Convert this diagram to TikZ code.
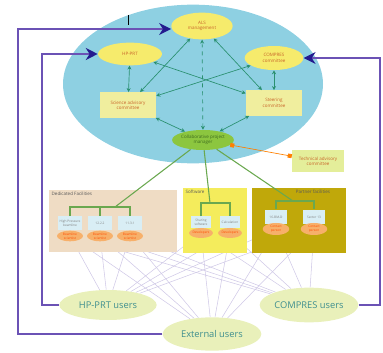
\documentclass[tikz,border=0pt]{standalone}
\usepackage{fontspec}
\setmainfont{Open Sans}
\usetikzlibrary{arrows.meta,positioning,shapes.geometric,backgrounds}
\definecolor{sky}{HTML}{8ED0E2}
\definecolor{yel}{HTML}{F6EB6C}
\definecolor{paleyel}{HTML}{F0EE9E}
\definecolor{rust}{HTML}{C8642A}
\definecolor{tealgr}{HTML}{2A9070}
\definecolor{mgrgr}{HTML}{8CC63F}
\definecolor{darkgr}{HTML}{3E6B1E}
\definecolor{tacgr}{HTML}{E4EE9A}
\definecolor{ded}{HTML}{EFDCC4}
\definecolor{soft}{HTML}{F4EC5C}
\definecolor{part}{HTML}{C0A80A}
\definecolor{iceblue}{HTML}{D9EEF5}
\definecolor{peach}{HTML}{F7B06A}
\definecolor{usergr}{HTML}{E9F0BA}
\definecolor{userteal}{HTML}{3F8F8F}
\definecolor{purp}{HTML}{6B52B5}
\definecolor{navy}{HTML}{241B8F}
\definecolor{leafgr}{HTML}{6AA84F}
\definecolor{lav}{HTML}{CFC8E6}

\begin{document}
\begin{tikzpicture}[x=0.75pt,y=-0.75pt,>=Stealth,font=\fontsize{3.4}{4}\selectfont]
\tikzstyle{yo}=[ellipse,fill=yel,inner sep=0pt,text=rust,align=center]
\tikzstyle{cb}=[fill=paleyel,inner sep=0pt,text=rust,align=center,minimum width=42pt,minimum height=19pt]
\tikzstyle{lk}=[draw=tealgr,line width=0.5pt,{Stealth[length=3pt,width=3pt]}-{Stealth[length=3pt,width=3pt]}]
\tikzstyle{fb}=[fill=iceblue,inner sep=0pt,align=center,text=gray,font=\fontsize{2.4}{3}\selectfont]
\tikzstyle{fo}=[ellipse,fill=peach,inner sep=0pt,align=center,text=orange!60!red,font=\fontsize{2.4}{3}\selectfont]
\tikzstyle{uo}=[ellipse,fill=usergr,inner sep=0pt,text=userteal,font=\fontsize{7}{8}\selectfont]
\tikzstyle{pl}=[draw=purp,line width=1.2pt,-{Stealth[length=9pt,width=9pt,color=navy]}]
\tikzstyle{gl}=[draw=leafgr,line width=0.8pt]
\tikzstyle{ul}=[draw=lav,line width=0.4pt]
\useasboundingbox (0,0) rectangle (383,353);

% governance
\node[ellipse,fill=sky,minimum width=195pt,minimum height=119pt] (sky) at (193,84) {};
\node[yo,minimum width=46pt,minimum height=20pt] (als) at (202,26) {ALS\\management};
\node[yo,minimum width=48pt,minimum height=17pt] (hp) at (130,54) {HP-PRT};
\node[yo,minimum width=44pt,minimum height=18pt] (cc) at (274,58) {COMPRES\\committee};
\node[cb] (sac) at (128,105) {Science advisory\\committee};
\node[cb] (stc) at (274,103) {Steering\\committee};
\node[ellipse,fill=mgrgr,minimum width=45pt,minimum height=15pt,inner sep=0pt,align=center,text=darkgr] (mgr) at (203,140) {Collaborative project\\manager};
\node[cb,fill=tacgr,minimum width=39pt,minimum height=17pt] (tac) at (318,161) {Technical advisory\\committee};
\draw[lk] (sac) -- (als); \draw[lk] (stc) -- (als);
\draw[lk] (hp) -- (sac); \draw[lk] (cc) -- (stc);
\draw[lk] (hp) -- (stc); \draw[lk] (cc) -- (sac);
\draw[lk,dashed] (mgr) -- (als);
\draw[lk] (sac) -- (mgr); \draw[lk] (stc) -- (mgr);
\draw[draw=orange,line width=0.5pt,{Square[length=3pt,width=3pt]}-{Square[length=3pt,width=3pt]}] (mgr) -- (tac);

% facilities
\node[fill=ded,minimum width=96pt,minimum height=47pt,inner sep=0pt] (ded) at (113,221) {};
\node[fill=soft,minimum width=48pt,minimum height=49pt,inner sep=0pt] (sw) at (215,220.5) {};
\node[fill=part,minimum width=70.5pt,minimum height=49pt,inner sep=0pt] (pf) at (299,220.5) {};
\node[anchor=north west,inner sep=2pt,text=black!65] (dedl) at (ded.north west) {Dedicated Facilities};
\node[anchor=north west,inner sep=2pt,text=black!65] (swl) at (sw.north west) {Software};
\node[anchor=north east,inner sep=2pt,xshift=-10pt,text=black!65] (pfl) at (pf.north east) {Partner facilities};
\foreach \n/\x/\t in {d1/70/{High Pressure\\beamline},d2/100/{12.2.2},d3/130/{11.3.1}} {
  \node[fb,minimum width=18pt,minimum height=10pt] (\n) at (\x,223) {\t};
  \node[fo,minimum width=19.5pt,minimum height=8pt] (\n e) at (\x,236) {Beamline\\scientist};
}
\foreach \n/\x/\t in {s1/201/{Sharing\\software},s2/230/{Calculation}} {
  \node[fb,minimum width=15pt,minimum height=8.5pt] (\n) at (\x,222) {\t};
  \node[fo,minimum width=17pt,minimum height=7.5pt] (\n e) at (\x,233) {Developers};
}
\foreach \n/\x/\t in {p1/276/{16-BM-D},p2/314/{Sector 13}} {
  \node[fb,minimum width=16.5pt,minimum height=11pt] (\n) at (\x,217) {\t};
  \node[fo,minimum width=20pt,minimum height=9pt] (\n e) at (\x,229) {Contact\\person};
}
\coordinate (dj) at (115,207);
\coordinate (sj) at (210,203);
\coordinate (pj) at (293,201);
\draw[gl] (d1.north) |- (dj) -| (d3.north); \draw[gl] (d2.north) -- (d2.north |- dj);
\draw[gl] (s1.north) |- (sj) -| (s2.north);
\draw[gl] (p1.north) |- (pj) -| (p2.north);
\draw[gl] (mgr) -- (dj); \draw[gl] (mgr) -- (sj); \draw[gl] (mgr) -- (pj);

% users
\node[uo,minimum width=73pt,minimum height=22.5pt] (hpu) at (108,305) {HP-PRT users};
\node[uo,minimum width=74pt,minimum height=25pt] (exu) at (212,334) {External users};
\node[uo,minimum width=74pt,minimum height=26pt] (cpu) at (309,305) {COMPRES users};
\begin{scope}[on background layer]
\foreach \u in {hpu,exu,cpu} \foreach \f in {d1e,d2e,d3e,s1e,s2e,p1e,p2e} \draw[ul] (\u) -- (\f);
\end{scope}
\coordinate (hpc) at (42,54);
\coordinate (exc) at (18,29);
\coordinate (cpc) at (380,58);
\draw[pl] (hpu.west) -| (hpc) -- (hp.west);
\draw[pl] (exu.west) -| (exc) -- (als.west |- exc);
\draw[pl] (cpu.east) -| (cpc) -- (cc.east);
\draw[line width=0.5pt] (128,15) -- (128,25);
\end{tikzpicture}
\end{document}
